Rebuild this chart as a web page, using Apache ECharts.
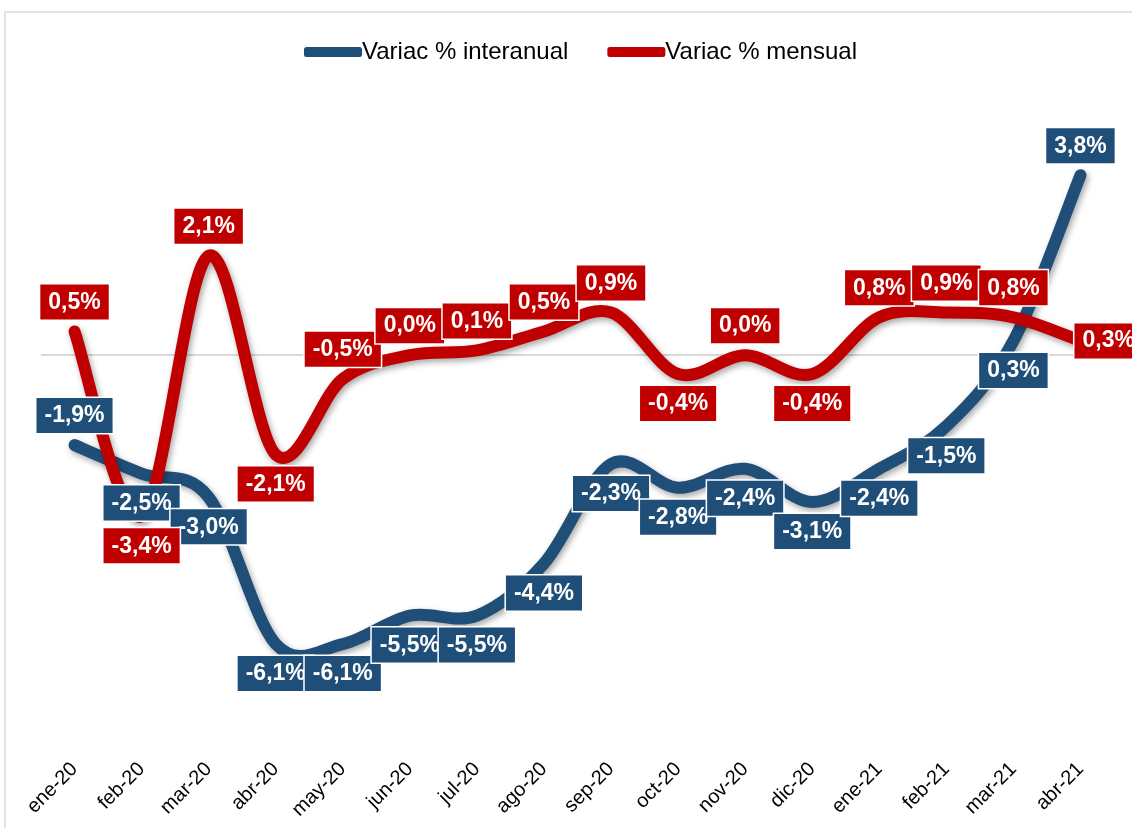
<!DOCTYPE html>
<html>
<head>
<meta charset="utf-8">
<script src="https://cdn.jsdelivr.net/npm/echarts@6/dist/echarts.min.js"></script>
<style>
html,body{margin:0;padding:0;background:#fff;}
#c{width:1132px;height:828px;}
</style>
</head>
<body>
<div id="c"></div>
<script>
const categories = ['ene-20','feb-20','mar-20','abr-20','may-20','jun-20','jul-20','ago-20','sep-20','oct-20','nov-20','dic-20','ene-21','feb-21','mar-21','abr-21'];
const interanual = [-1.9,-2.5,-3.0,-6.1,-6.1,-5.5,-5.5,-4.4,-2.3,-2.8,-2.4,-3.1,-2.4,-1.5,0.3,3.8];
const mensual = [0.5,-3.4,2.1,-2.1,-0.5,0.0,0.1,0.5,0.9,-0.4,0.0,-0.4,0.8,0.9,0.8,0.3];
const seriesNames = ['Variac % interanual','Variac % mensual'];

// label placement (styling, not data)
const bluePos = ['top','bottom','bottom','bottom','bottom','bottom','bottom','bottom','bottom','bottom','bottom','bottom','bottom','bottom','bottom','top'];
const redPos = ['top','bottom','top','bottom','top','top','top','top','top','bottom','top','bottom','top','top','top','right'];

const BLUE = '#1F4E79', RED = '#C00000';
const FONT = 'Liberation Sans, Arial, sans-serif';
const fmt = p => p.value.toFixed(1).replace('.', ',') + '%';

function labelStyle(color){
  return {
    show:true, formatter:fmt, color:'#fff', fontFamily:FONT,
    fontWeight:'bold', fontSize:23, lineHeight:24, backgroundColor:color,
    borderColor:'#fff', borderWidth:1.5, padding:[6,8,5,8], distance:11
  };
}
// Smooth line (Catmull-Rom style, like spreadsheet smoothing) drawn through the axis scales
function smoothSeries(name, vals, color){
  return {
    name, type:'custom', z:2, silent:true,
    itemStyle:{color},
    data: vals.map((v,i)=>[i,v]),
    encode:{x:0, y:1},
    renderItem:(params, api)=>{
      if (params.dataIndex !== 0) return null;
      const P = vals.map((v,i)=>api.coord([i,v]));
      const n = P.length;
      const get = k => P[Math.max(0, Math.min(n-1, k))];
      let d = 'M' + P[0][0] + ' ' + P[0][1];
      for (let i=0;i<n-1;i++){
        const p0=get(i-1), p1=get(i), p2=get(i+1), p3=get(i+2);
        const c1x = p1[0] + (p2[0]-p0[0])/6, c1y = p1[1] + (p2[1]-p0[1])/6;
        const c2x = p2[0] - (p3[0]-p1[0])/6, c2y = p2[1] - (p3[1]-p1[1])/6;
        d += ' C' + c1x + ' ' + c1y + ' ' + c2x + ' ' + c2y + ' ' + p2[0] + ' ' + p2[1];
      }
      return {
        type:'path', shape:{pathData:d},
        style:{fill:null, stroke:color, lineWidth:12, lineCap:'round', lineJoin:'round',
          shadowColor:'rgba(0,0,0,0.35)', shadowBlur:6, shadowOffsetX:2, shadowOffsetY:3}
      };
    }
  };
}
function labelSeries(name, vals, pos, color){
  return {
    name, type:'line', z:5, symbol:'circle', symbolSize:2, showSymbol:true,
    lineStyle:{width:0, color:'rgba(0,0,0,0)'}, itemStyle:{color:'rgba(0,0,0,0)', borderWidth:0}, silent:true,
    label:labelStyle(color),
    data: vals.map((v,i)=>{
      const d = {value:v, label:{position:pos[i]}};
      if(pos[i]==='right') d.label.distance = -7;
      return d;
    })
  };
}

const chart = echarts.init(document.getElementById('c'));
const blueLabels = labelSeries('lbl-blue', interanual, bluePos, BLUE);
blueLabels.markLine = {silent:true, symbol:'none', z:1, label:{show:false},
  lineStyle:{color:'#d9d9d9', width:2, type:'solid'}, data:[{yAxis:0}]};

chart.setOption({
  animation:false,
  backgroundColor:'#fff',
  graphic:[{type:'rect', shape:{x:5, y:12, width:1200, height:900}, style:{fill:'none', stroke:'#d9d9d9', lineWidth:1.5}, silent:true, z:-1}],
  legend:{
    data:seriesNames, left:299, top:35, itemWidth:58, itemHeight:10, itemGap:39,
    icon:'roundRect',
    textStyle:{fontFamily:FONT, fontSize:24, color:'#000', padding:[0,0,0,-5]}
  },
  grid:{left:41, right:18, top:71, bottom:94},
  xAxis:{
    type:'category', data:categories, boundaryGap:true,
    axisLine:{show:false, onZero:false}, axisTick:{show:false}, splitLine:{show:false},
    axisLabel:{rotate:45, margin:32, fontSize:20, color:'#000', fontFamily:FONT}
  },
  yAxis:{type:'value', min:-8, max:6, interval:1, show:false, splitLine:{show:false}},
  series:[
    smoothSeries(seriesNames[0], interanual, BLUE),
    smoothSeries(seriesNames[1], mensual, RED),
    blueLabels,
    labelSeries('lbl-red', mensual, redPos, RED)
  ]
});
</script>
</body>
</html>
